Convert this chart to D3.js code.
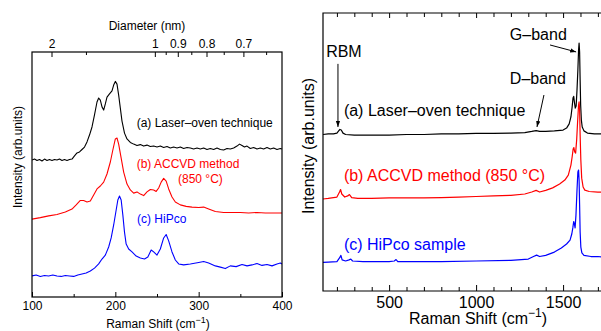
<!DOCTYPE html>
<html>
<head>
<meta charset="utf-8">
<script src="https://cdn.jsdelivr.net/npm/d3@7"></script>
<style>
html,body{margin:0;padding:0;background:#fff;}
svg{display:block;font-family:"Liberation Sans",Arial,sans-serif;}
</style>
</head>
<body>
<svg id="chart" width="601" height="331"></svg>
<script>
// ---------- LEFT PANEL DATA (RBM region, Raman shift cm^-1, intensity arb.) ----------
const leftLaser = [
[100,55.9],[103,56.3],[106,55.7],[109,56.1],[112,55.5],[115,56.3],[118,55.7],[121,56.1],[124,55.7],[127,56.1],
[130,55.9],[133,56.3],[136,55.7],[139,56.1],[142,55.7],[145,56.1],[148,56.3],[151,57.6],[154,58.8],[157,59.2],
[160,60.2],[163,61.2],[166,63.3],[169,66.1],[172,69.4],[175,74.3],[178,79.6],[180,81.2],[182,80.4],[184,77.6],
[186,76.3],[188,78.8],[190,81.6],[193,82.9],[196,84.1],[198,86.5],[200,88.0],[202,86.9],[204,82.4],[206,77.1],
[208,71.8],[211,66.9],[214,64.5],[218,63.1],[222,62.4],[226,61.8],[230,62.2],[234,61.6],[238,62.0],[242,61.4],
[246,61.6],[250,61.2],[254,61.6],[258,61.0],[262,61.4],[266,60.8],[270,61.2],[274,60.8],[278,61.2],[282,60.6],
[286,61.0],[290,60.8],[294,60.4],[298,60.8],[302,60.4],[306,60.8],[310,60.2],[314,60.6],[318,60.2],[322,60.8],
[326,60.2],[330,60.0],[334,60.6],[338,60.4],[342,60.8],[346,61.6],[349,62.4],[352,61.8],[355,61.2],[358,61.6],
[362,60.6],[366,61.0],[370,60.4],[374,60.8],[378,60.4],[382,61.0],[386,60.4],[390,60.8],[394,60.2],[398,60.6],[400,60.4]
];
const leftACCVD = [
[100,31.8],[110,32.4],[120,33.1],[130,33.7],[140,34.7],[148,35.9],[153,37.6],[158,39.4],[162,39.4],[166,38.8],
[170,39.2],[174,41.6],[178,44.1],[182,45.3],[186,46.9],[190,50.2],[194,55.1],[197,60.0],[200,64.5],[202,64.9],
[204,62.4],[207,56.7],[210,51.0],[214,46.1],[218,43.7],[222,42.4],[226,42.9],[230,42.0],[234,41.4],[238,42.9],
[242,43.9],[246,43.7],[249,43.1],[252,44.5],[255,46.9],[258,48.4],[261,47.3],[264,44.1],[268,40.8],[272,38.8],
[278,37.6],[285,37.0],[292,36.7],[300,36.5],[306,36.7],[312,35.9],[320,34.9],[330,34.5],[340,34.5],[350,34.5],
[360,34.3],[370,34.5],[380,34.3],[390,34.3],[400,34.3]
];
const leftHiPco = [
[100,8.6],[105,9.0],[110,8.4],[115,8.8],[120,8.6],[125,9.0],[130,8.6],[135,8.4],[140,8.8],[145,8.6],
[150,8.4],[155,9.0],[160,9.4],[165,9.8],[170,10.6],[175,11.8],[180,13.5],[184,15.5],[188,17.1],[192,20.4],
[195,24.1],[198,29.4],[201,35.5],[203,39.6],[205,41.2],[207,39.6],[209,33.5],[211,26.5],[213,21.6],[216,19.6],
[220,18.4],[225,16.7],[230,15.9],[235,15.5],[239,16.3],[243,19.2],[246,18.4],[250,17.1],[254,19.6],[258,24.1],
[261,25.5],[264,22.9],[268,18.4],[272,15.1],[276,13.5],[282,13.1],[290,13.5],[300,14.1],[306,14.5],[312,13.9],
[320,12.7],[326,12.2],[332,11.6],[338,12.7],[345,12.4],[352,13.3],[358,12.7],[364,13.1],[370,13.7],[376,12.9],
[382,13.3],[388,12.7],[394,13.5],[398,13.9],[400,13.5]
];
const leftShiftTicks = [100,200,300,400];
const leftShiftMinor = [150,250,350];
const diameterTicks = [2,1,0.9,0.8,0.7];
const diameterMinor = [1.5,0.95,0.85,0.75,0.65];
const leftLabels = ["(a) Laser\u2013oven technique","(b) ACCVD method","(850 \u00B0C)","(c) HiPco"];

// ---------- RIGHT PANEL DATA (full spectrum) ----------
const rightLaser = [
[120,56.3],[150,56.5],[180,56.5],[200,56.8],[210,57.6],[217,58.1],[225,57.9],[235,56.8],[250,56.3],[300,56.1],
[400,56.1],[500,56.1],[600,56.3],[700,56.3],[800,56.5],[900,56.5],[1000,56.7],[1100,56.7],[1200,56.8],[1280,57.0],
[1320,57.4],[1345,57.7],[1365,57.4],[1400,57.4],[1450,57.6],[1500,57.9],[1520,58.6],[1535,60.1],[1545,62.6],[1552,66.2],
[1557,69.4],[1561,70.0],[1565,68.0],[1570,65.8],[1575,66.5],[1580,72.3],[1585,79.5],[1589,86.7],[1592,89.2],[1595,86.0],
[1598,75.9],[1601,66.9],[1605,61.5],[1610,59.0],[1620,57.6],[1640,56.8],[1680,56.5],[1730,56.5]
];
const rightACCVD = [
[120,33.1],[150,33.3],[200,33.8],[215,35.6],[221,36.5],[228,34.9],[245,33.8],[262,34.2],[272,34.7],[285,33.6],
[320,33.3],[400,33.3],[500,33.5],[600,33.5],[700,33.5],[800,33.6],[900,33.8],[1000,34.0],[1100,34.2],[1200,34.4],
[1280,34.9],[1320,35.6],[1345,36.2],[1365,35.6],[1400,36.2],[1440,37.1],[1480,38.5],[1510,39.9],[1530,41.7],[1545,45.3],
[1552,48.2],[1558,51.1],[1562,51.6],[1567,50.0],[1572,49.6],[1578,54.3],[1584,61.5],[1589,66.9],[1592,68.0],[1595,65.1],
[1598,56.1],[1602,47.1],[1607,40.6],[1615,37.4],[1625,36.3],[1650,35.8],[1700,35.6],[1730,35.6]
];
const rightHiPco = [
[120,10.3],[150,10.4],[200,10.6],[215,11.9],[223,12.8],[230,11.2],[250,10.8],[270,11.2],[280,11.5],[290,10.8],
[350,10.6],[400,10.6],[500,10.6],[530,10.8],[540,11.3],[550,10.6],[650,10.6],[800,10.6],[1000,10.8],[1200,11.0],
[1300,11.5],[1330,12.4],[1348,12.9],[1365,12.4],[1400,12.8],[1450,14.0],[1490,15.5],[1520,16.9],[1540,18.3],[1550,20.5],
[1556,22.7],[1561,25.0],[1565,24.1],[1569,22.7],[1574,27.3],[1580,36.3],[1585,42.8],[1589,43.5],[1592,39.9],[1595,30.9],
[1598,21.2],[1602,15.8],[1608,13.7],[1620,12.8],[1660,12.4],[1700,12.4],[1730,12.2]
];
const rightShiftTicks = [500,1000,1500];
const rightShiftMinor = [200,300,400,600,700,800,900,1100,1200,1300,1400,1600,1700];
const rightLabels = ["(a) Laser\u2013oven technique","(b) ACCVD method (850 \u00B0C)","(c) HiPco sample"];
const bandLabels = ["RBM","G\u2013band","D\u2013band"];
const colors = ["#000000","#ff0000","#0000ff"];

// ---------- DRAW ----------
const svg = d3.select("#chart");
const defs = svg.append("defs");
defs.append("marker").attr("id","arrow").attr("viewBox","0 0 10 10")
  .attr("refX",10).attr("refY",5).attr("markerWidth",6).attr("markerHeight",6)
  .attr("markerUnits","userSpaceOnUse").attr("orient","auto")
  .append("path").attr("d","M0,1.5 L10,5 L0,8.5 Z").attr("fill","#000");

// Left panel
const L = {x0:32, x1:282, y0:52, y1:297};
const xL = d3.scaleLinear().domain([100,400]).range([L.x0,L.x1]);
const yL = d3.scaleLinear().domain([0,100]).range([L.y1,L.y0]);
defs.append("clipPath").attr("id","clipL").append("rect")
  .attr("x",L.x0).attr("y",L.y0).attr("width",L.x1-L.x0).attr("height",L.y1-L.y0);

const lineL = d3.line().x(d=>xL(d[0])).y(d=>yL(d[1]));
const gL = svg.append("g").attr("clip-path","url(#clipL)");
[leftLaser,leftACCVD,leftHiPco].forEach((s,i)=>{
  gL.append("path").datum(s).attr("d",lineL).attr("fill","none")
    .attr("stroke",colors[i]).attr("stroke-width",1.1).attr("stroke-linejoin","round");
});

function styleAxis(g,fs){
  g.select(".domain").remove();
  g.selectAll("line").attr("stroke","#000");
  g.selectAll("text").attr("font-size",fs).attr("fill","#000")
   .attr("font-family","'Liberation Sans',Arial,sans-serif");
}
// bottom axis left
svg.append("g").attr("transform",`translate(0,${L.y1})`)
  .call(d3.axisBottom(xL).tickValues(leftShiftTicks).tickSize(-5).tickPadding(4).tickFormat(d3.format("d")))
  .call(g=>styleAxis(g,12));
svg.append("g").attr("transform",`translate(0,${L.y1})`)
  .call(d3.axisBottom(xL).tickValues(leftShiftMinor).tickSize(-3).tickFormat(""))
  .call(g=>styleAxis(g,12));
// top diameter axis (omega = 248 / d)
const dScale = d => xL(248/d);
const topMaj = svg.append("g").attr("class","top");
diameterTicks.forEach(d=>{
  topMaj.append("line").attr("x1",dScale(d)).attr("x2",dScale(d)).attr("y1",L.y0).attr("y2",L.y0+5).attr("stroke","#000");
  topMaj.append("text").attr("x",dScale(d)).attr("y",L.y0-4.5).attr("text-anchor","middle")
    .attr("font-size",12).text(d3.format("")(d));
});
diameterMinor.forEach(d=>{
  topMaj.append("line").attr("x1",dScale(d)).attr("x2",dScale(d)).attr("y1",L.y0).attr("y2",L.y0+3).attr("stroke","#000");
});
svg.append("rect").attr("x",L.x0).attr("y",L.y0).attr("width",L.x1-L.x0).attr("height",L.y1-L.y0)
  .attr("fill","none").attr("stroke","#000").attr("stroke-width",1.2);

svg.append("text").attr("x",(L.x0+L.x1)/2-10).attr("y",29.5).attr("text-anchor","middle")
  .attr("font-size",12).text("Diameter (nm)");
const tL = svg.append("text").attr("x",158).attr("y",327.5).attr("text-anchor","middle").attr("font-size",12);
tL.append("tspan").text("Raman Shift (cm");
tL.append("tspan").attr("dy",-5).attr("font-size",9).text("\u22121");
tL.append("tspan").attr("dy",5).text(")");
svg.append("text").attr("transform","translate(22,157) rotate(-90)").attr("text-anchor","middle")
  .attr("font-size",12).text("Intensity (arb.units)");

// left labels (anchored in data coordinates)
const leftLabelPos = [[225.6,69.4,0],[225.6,52.8,1],[275.2,46.7,1],[226,30.4,2]];
leftLabelPos.forEach((p,i)=>{
  svg.append("text").attr("x",xL(p[0])).attr("y",yL(p[1])).attr("font-size",12)
    .attr("fill",colors[p[2]]).text(leftLabels[i]);
});

// Right panel
const R = {x0:323, x1:603.1, y0:13, y1:291};
const xR = d3.scaleLinear().domain([120,1730]).range([R.x0,R.x1]);
const yR = d3.scaleLinear().domain([0,100]).range([R.y1,R.y0]);
defs.append("clipPath").attr("id","clipR").append("rect")
  .attr("x",R.x0).attr("y",R.y0).attr("width",R.x1-R.x0).attr("height",R.y1-R.y0);
const lineR = d3.line().x(d=>xR(d[0])).y(d=>yR(d[1]));
const gR = svg.append("g").attr("clip-path","url(#clipR)");
[rightLaser,rightACCVD,rightHiPco].forEach((s,i)=>{
  gR.append("path").datum(s).attr("d",lineR).attr("fill","none")
    .attr("stroke",colors[i]).attr("stroke-width",1.2).attr("stroke-linejoin","round");
});
svg.append("g").attr("transform",`translate(0,${R.y1})`)
  .call(d3.axisBottom(xR).tickValues(rightShiftTicks).tickSize(-6).tickPadding(6).tickFormat(d3.format("d")))
  .call(g=>styleAxis(g,16));
svg.append("g").attr("transform",`translate(0,${R.y1})`)
  .call(d3.axisBottom(xR).tickValues(rightShiftMinor).tickSize(-4).tickFormat(""))
  .call(g=>styleAxis(g,16));
svg.append("g").attr("transform",`translate(0,${R.y0})`)
  .call(d3.axisTop(xR).tickValues(rightShiftTicks).tickSize(-5).tickFormat(""))
  .call(g=>styleAxis(g,16));
svg.append("g").attr("transform",`translate(0,${R.y0})`)
  .call(d3.axisTop(xR).tickValues(rightShiftMinor).tickSize(-4).tickFormat(""))
  .call(g=>styleAxis(g,16));
svg.append("path").attr("d",`M${R.x1},${R.y0}H${R.x0}V${R.y1}H${R.x1}`)
  .attr("fill","none").attr("stroke","#000").attr("stroke-width",1.2);

const tR = svg.append("text").attr("x",478).attr("y",324).attr("text-anchor","middle").attr("font-size",16);
tR.append("tspan").text("Raman Shift (cm");
tR.append("tspan").attr("dy",-7).attr("font-size",12).text("\u22121");
tR.append("tspan").attr("dy",7).text(")");
svg.append("text").attr("transform","translate(314,146) rotate(-90)").attr("text-anchor","middle")
  .attr("font-size",16).text("Intensity (arb.units)");

// right labels
const rightLabelPos = [[240,63.0,0],[240,39.5,1],[240,14.6,2]];
rightLabelPos.forEach((p,i)=>{
  svg.append("text").attr("x",xR(p[0])).attr("y",yR(p[1])).attr("font-size",16)
    .attr("fill",colors[p[2]]).text(rightLabels[i]);
});
// band annotations
const bandPos = [[138,84.0],[1194,90.3],[1194,74.5]];
bandPos.forEach((p,i)=>{
  svg.append("text").attr("x",xR(p[0])).attr("y",yR(p[1])).attr("font-size",16).text(bandLabels[i]);
});
const arrows = [
  [[206,81.7],[206,59.0]],
  [[1425,88.5],[1575,86.0]],
  [[1390,70.5],[1350,59.0]]
];
arrows.forEach(a=>{
  svg.append("line").attr("x1",xR(a[0][0])).attr("y1",yR(a[0][1]))
    .attr("x2",xR(a[1][0])).attr("y2",yR(a[1][1]))
    .attr("stroke","#000").attr("stroke-width",1).attr("marker-end","url(#arrow)");
});
</script>
</body>
</html>
